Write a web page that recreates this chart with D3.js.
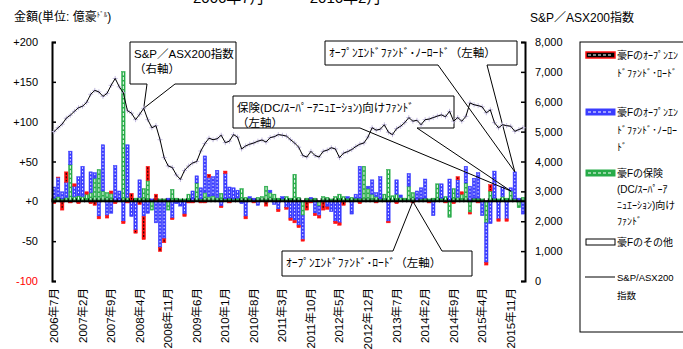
<!DOCTYPE html>
<html>
<head>
<meta charset="utf-8">
<script src="https://cdn.jsdelivr.net/npm/d3@7"></script>
<style>
  body { margin: 0; background: #fff; }
  svg { display: block; font-family: "Liberation Sans", "Noto Sans CJK JP", sans-serif; }
</style>
</head>
<body>
<div id="chart"></div>
<script>
// 豪州ファンドの資金フロー（月次、億豪ドル）と S&P/ASX200 指数
const months = d3.timeMonth.range(new Date(2006, 6, 1), new Date(2016, 2, 1)) // 2006年7月〜2016年2月

const tickLabels = ["2006年7月", "2007年2月", "2007年9月", "2008年4月", "2008年11月", "2009年6月",
  "2010年1月", "2010年8月", "2011年3月", "2011年10月", "2012年5月", "2012年12月", "2013年7月",
  "2014年2月", "2014年9月", "2015年4月", "2015年11月"]

// オープンエンドファンド・ロード
const red = [-3, 0.5, -11, 13, -2, 3, -3, 0, 3, -3,
  -5, -3, 0, -3, 3, -3, 0, -3, -2, 9,
  -4, -4, -29, 18, 0, 8, -5, -5, 0, -2,
  0, 0, -3, -2, -2, 0, -2, -2, 4, 0,
  0, -2, 3, -2, 0, 0, 0, -3, 0, -2,
  0, 0, -6, 0, 0, -3, 0, -2, -3, -3,
  -3, -2, -11, -2, -3, -3, -11, -3, 0, -3,
  -3, -5, 0, 0, 0, -3, 0, 0, 0, -2,
  0, 0, -2, 0, -3, 0, 0, 0, -2, 0,
  0, 0, -2, 0, 0, 0, -2, 0, -3, 4,
  3, 0, -2, 0, -2, 0, -3, 8, 0, -3,
  0, -3, 0, 0, 0, 0]

// オープンエンドファンド・ノーロード
const blue = [14, 24, 9, 19, 17, 13, 24, 38, 0, 26,
  7, -19, 58, -18, -15, 44, 12, -25, 66, -19,
  -36, 22, -19, -15, 2, -27, -58, -47, 3, -21,
  -3, -6, -16, 0, 12, 9, 14, 46, 24, 24,
  34, -6, 32, 14, 14, 10, -3, -19, 2, 3,
  -5, 0, 0, 3, -4, -10, 3, -8, -21, -24,
  -30, -30, 0, 2, -15, -12, 0, -7, -13, -25,
  -27, 0, 2, -16, 5, 40, 0, 3, 18, 5,
  28, 0, -25, 0, 18, 3, 0, 16, 0, 12,
  14, 24, 0, -18, 0, 18, 0, 27, 0, 22,
  0, 21, 18, 25, 32, -18, -50, -28, 34, -22,
  12, -22, 4, 34, 3, -16]

// 保険（DC/スーパーアニュエーション）向けファンド
const green = [3, 5, 2, 4, 45, 5, 6, 5, 8, 10,
  28, 39, 12, 10, 9, 0, 0, 162, 4, 0,
  3, 4, 15, 25, -11, 0, 2, 2, -11, 14,
  3, 2, 2, 8, 0, 22, 2, 10, 5, 6,
  4, 9, 2, 3, 2, 3, 15, 4, 3, 0,
  4, 5, 18, 10, 8, 3, 2, 5, 3, 33,
  4, -18, 3, 2, 3, -6, 5, 4, 2, 5,
  8, 5, 3, 4, 3, 3, 43, 15, 8, 5,
  2, 8, 39, 6, 8, 4, 3, 18, 10, 0,
  2, 3, 2, 3, 21, 3, 5, -20, 15, 4,
  8, 22, -14, 3, 3, 2, -27, 12, 3, 2,
  5, 3, 12, 2, -8, 4]

// その他
const other = [1, 1, 1, 1, 1, 1, 1, 1, 1, 1,
  1, 1, 1, 1, 1, 1, 1, 1, 1, 1,
  1, 1, 1, 1, 1, 1, 1, 1, 1, 1,
  1, 1, 1, 1, 1, 1, 1, 1, 1, 1,
  1, 1, 1, 1, 1, 1, 1, 1, 1, 1,
  1, 1, 1, 1, 1, 1, 1, 1, 1, 1,
  1, 1, 1, 1, 1, 1, 1, 1, 1, 1,
  1, 1, 1, 1, 1, 1, 1, 1, 1, 1,
  1, 1, 1, 1, 1, 1, 1, 1, 1, 1,
  1, 1, 1, 1, 1, 1, 1, 1, 1, 1,
  1, 1, 1, 1, 1, 1, 1, 1, 1, 1,
  1, 1, 1, 1, 1, 1]

// S&P/ASX200 指数（月末）
const asx = [5000, 5130, 5250, 5450, 5550, 5680, 5800, 5850, 5980, 6250,
  6380, 6330, 6180, 6280, 6550, 6780, 6500, 6300, 5700, 5620,
  5400, 5580, 5780, 5400, 5130, 5200, 4730, 4130, 3850, 3800,
  3550, 3400, 3700, 3850, 3950, 4000, 4350, 4600, 4780, 4730,
  4760, 4880, 4630, 4680, 4900, 4820, 4420, 4520, 4580, 4620,
  4680, 4720, 4650, 4800, 4830, 4900, 4880, 4850, 4730, 4620,
  4480, 4200, 4150, 4340, 4200, 4150, 4340, 4380, 4460, 4420,
  4130, 4280, 4330, 4400, 4500, 4580, 4620, 4820, 5130, 5050,
  5080, 5230, 4980, 4900, 5100, 5180, 5300, 5470, 5350, 5380,
  5230, 5400, 5420, 5470, 5520, 5560, 5500, 5680, 5350, 5470,
  5350, 5510, 5960, 5900, 5870, 5830, 5630, 5730, 5300, 5130,
  5230, 5200, 5180, 5010, 5070, 5130]

const leftTicks = [200, 150, 100, 50, 0, -50, -100]
const rightTicks = [0, 1000, 2000, 3000, 4000, 5000, 6000, 7000, 8000]

const plot = { left: 52, right: 525, top: 42, bottom: 281 }

const svg = d3.select("#chart").append("svg")
  .attr("width", 683).attr("height", 349)
  .attr("viewBox", "0 0 683 349")

// 上部タイトル（上端で切れている）
svg.append("text")
  .attr("x", 193).attr("y", 3)
  .attr("font-size", 15).attr("fill", "#000")
  .text("2006年7月　～　2016年2月")

// 軸タイトル
const lt = svg.append("text").attr("x", 14).attr("y", 21).attr("font-size", 12)
lt.append("tspan").text("金額(単位: 億豪")
lt.append("tspan").attr("font-size", 7).attr("dy", -4).text("ﾄﾞﾙ")
lt.append("tspan").attr("dy", 4).text(")")

svg.append("text")
  .attr("x", 530).attr("y", 22).attr("font-size", 12)
  .text("S&P／ASX200指数")

// スケール
const x = d3.scaleBand().domain(months).range([plot.left, plot.right]).paddingInner(0.15).paddingOuter(0.07)
const yL = d3.scaleLinear().domain([-100, 200]).range([plot.bottom, plot.top])
const yR = d3.scaleLinear().domain([0, 8000]).range([plot.bottom, plot.top])
const cx = (m) => x(m) + x.bandwidth() / 2
const fmt = (d) => `${d.getFullYear()}年${d.getMonth() + 1}月`

// 積み上げ（0から外側へ: その他, 保険, ノーロード, ロード）
const rows = months.map((m, i) => ({ m, other: other[i], green: green[i], blue: blue[i], red: red[i] }))
const keys = ["other", "green", "blue", "red"]
const stacked = d3.stack().keys(keys).offset(d3.stackOffsetDiverging)(rows)

const style = {
  red: { fill: "#ff1010", stroke: "#ff1010", dash: "#000", da: "2,1.5" },
  blue: { fill: "#3a3cff", stroke: "#3a3cff", dash: "#fff", da: "1.5,2" },
  green: { fill: "#27ab48", stroke: "#27ab48", dash: "#fff", da: "3,1.5" },
  other: { fill: "#fff", stroke: "#000", dash: null },
}

const bars = svg.append("g")
stacked.forEach((layer) => {
  const s = style[layer.key]
  const gl = bars.append("g")
  const segs = layer.filter((d) => d[1] !== d[0])
  gl.selectAll("rect").data(segs).join("rect")
    .attr("x", (d) => x(d.data.m))
    .attr("width", x.bandwidth())
    .attr("y", (d) => yL(Math.max(d[0], d[1])))
    .attr("height", (d) => Math.abs(yL(d[0]) - yL(d[1])))
    .attr("fill", s.fill).attr("stroke", s.stroke).attr("stroke-width", 0.5)
  if (s.dash) {
    gl.selectAll("line").data(segs.filter((d) => Math.abs(yL(d[0]) - yL(d[1])) > 3)).join("line")
      .attr("x1", (d) => cx(d.data.m)).attr("x2", (d) => cx(d.data.m))
      .attr("y1", (d) => yL(Math.max(d[0], d[1])) + 1)
      .attr("y2", (d) => yL(Math.min(d[0], d[1])) - 1)
      .attr("stroke", s.dash).attr("stroke-width", 1).attr("stroke-dasharray", s.da)
  }
})

// ゼロ線と目盛り
const y0 = yL(0)
svg.append("line")
  .attr("x1", plot.left).attr("x2", plot.right).attr("y1", y0).attr("y2", y0)
  .attr("stroke", "#000").attr("stroke-width", 2)
svg.append("g").selectAll("line").data(months).join("line")
  .attr("x1", (m) => x(m) - x.step() * x.paddingInner() / 2)
  .attr("x2", (m) => x(m) - x.step() * x.paddingInner() / 2)
  .attr("y1", y0 - 3).attr("y2", y0 + 1)
  .attr("stroke", "#000").attr("stroke-width", 1)

// 左軸
const axL = svg.append("g").attr("transform", `translate(${plot.left},0)`)
  .call(d3.axisLeft(yL).tickValues(leftTicks).tickSizeInner(-4).tickSizeOuter(-4).tickPadding(14)
    .tickFormat((v) => (v >= 0 ? "+" : "-") + Math.abs(v)))
axL.select(".domain").attr("stroke-width", 2)
axL.selectAll(".tick line").attr("stroke-width", 1.5)
axL.selectAll("text").attr("font-size", 11).attr("font-family", "Liberation Sans, sans-serif")
  .attr("fill", (v) => (v === -100 ? "#ff0000" : "#000"))

// 右軸
const axR = svg.append("g").attr("transform", `translate(${plot.right},0)`)
  .call(d3.axisRight(yR).tickValues(rightTicks).tickSizeInner(-4).tickSizeOuter(-4).tickPadding(10)
    .tickFormat(d3.format(",")))
axR.select(".domain").attr("stroke-width", 2)
axR.selectAll(".tick line").attr("stroke-width", 1.5)
axR.selectAll("text").attr("font-size", 11).attr("font-family", "Liberation Sans, sans-serif").attr("fill", "#000")

// 日付ラベル（縦書き）
const labelMonths = months.filter((m) => tickLabels.includes(fmt(m)))
svg.append("g").selectAll("text").data(labelMonths).join("text")
  .attr("transform", (m) => `translate(${cx(m) + 4},288) rotate(-90)`)
  .attr("text-anchor", "end")
  .attr("font-size", 11.5)
  .text((m) => fmt(m))

// 吹き出し
function callout(box, b1, b2, tip, lines, side) {
  const [x0, y0b, x1, y1] = box
  let p
  if (side === "bottom") {
    p = `M${x0},${y0b}H${x1}V${y1}H${b2}L${tip[0]},${tip[1]}L${b1},${y1}H${x0}Z`
  } else {
    p = `M${x0},${y0b}H${b1}L${tip[0]},${tip[1]}L${b2},${y0b}H${x1}V${y1}H${x0}Z`
  }
  svg.append("path").attr("d", p).attr("fill", "none").attr("stroke", "#000").attr("stroke-width", 1)
  lines.forEach((t, i) => {
    svg.append("text").attr("x", x0 + 4).attr("y", y0b + 16 + i * 15)
      .attr("font-size", 11.5).text(t)
  })
}

const mi = (i) => months[i]
// S&P/ASX200指数（右軸）
callout([130, 42, 236, 84], 147, 175, [cx(mi(22)), yR(asx[22])], ["S&P／ASX200指数", "（右軸）"], "bottom")
// ノーロード
const topAt = (i) => stacked[2][i][1]
callout([325, 41, 517, 65], 438, 487, [cx(mi(113)), yL(topAt(113))], ["ｵｰﾌﾟﾝｴﾝﾄﾞﾌｧﾝﾄﾞ･ﾉｰﾛｰﾄﾞ（左軸）"], "bottom")
// 保険
callout([233, 96, 454, 128], 360, 417, [cx(mi(112)), yL(stacked[1][112][1])],
  ["保険(DC/ｽｰﾊﾟｰｱﾆｭｴｰｼｮﾝ)向けﾌｧﾝﾄﾞ", "（左軸）"], "bottom")
// ロード
callout([282, 251, 472, 276], 393, 442, [cx(mi(88)), yL(0)], ["ｵｰﾌﾟﾝｴﾝﾄﾞﾌｧﾝﾄﾞ･ﾛｰﾄﾞ（左軸）"], "top")

// S&P/ASX200 線
const pts = months.map((m, i) => [cx(m), yR(asx[i])])
svg.append("g").selectAll("path").data(pts).join("path")
  .attr("d", (p) => `M${p[0] - 2.5},${p[1]}h5M${p[0]},${p[1] - 2.5}v5`)
  .attr("stroke", "#c4bce0").attr("stroke-width", 1)
svg.append("path")
  .attr("d", d3.line()(pts))
  .attr("fill", "none").attr("stroke", "#000").attr("stroke-width", 1)

// 凡例
const lg = svg.append("g")
lg.append("rect").attr("x", 580).attr("y", 42).attr("width", 120).attr("height", 290)
  .attr("fill", "#fff").attr("stroke", "#000").attr("stroke-width", 1)

const legendItems = [
  { key: "red", y: 55, lines: ["豪Fのｵｰﾌﾟﾝｴﾝ", "ﾄﾞﾌｧﾝﾄﾞ･ﾛｰﾄﾞ"] },
  { key: "blue", y: 112, lines: ["豪Fのｵｰﾌﾟﾝｴﾝ", "ﾄﾞﾌｧﾝﾄﾞ･ﾉｰﾛｰ", "ﾄﾞ"] },
  { key: "green", y: 173, lines: ["豪Fの保険", "(DC/ｽｰﾊﾟｰｱ", "ﾆｭｴｰｼｮﾝ)向け", "ﾌｧﾝﾄﾞ"] },
  { key: "other", y: 242, lines: ["豪Fのその他"] },
  { key: "line", y: 277, lines: ["S&P/ASX200", "指数"] },
]
legendItems.forEach((it) => {
  if (it.key === "line") {
    lg.append("line").attr("x1", 585).attr("x2", 615).attr("y1", it.y).attr("y2", it.y)
      .attr("stroke", "#000").attr("stroke-width", 1)
  } else if (it.key === "red") {
    lg.append("rect").attr("x", 586).attr("y", it.y - 3).attr("width", 29).attr("height", 6)
      .attr("fill", "#000").attr("stroke", "#ff1010").attr("stroke-width", 1.5)
    lg.append("line").attr("x1", 588).attr("x2", 613).attr("y1", it.y).attr("y2", it.y)
      .attr("stroke", "#fff").attr("stroke-width", 1).attr("stroke-dasharray", "3,2")
  } else {
    const s = style[it.key]
    lg.append("rect").attr("x", 586).attr("y", it.y - 3).attr("width", 29).attr("height", 6)
      .attr("fill", s.fill).attr("stroke", s.stroke).attr("stroke-width", 1)
    if (s.dash) {
      lg.append("line").attr("x1", 588).attr("x2", 613).attr("y1", it.y).attr("y2", it.y)
        .attr("stroke", s.dash).attr("stroke-width", 1.2).attr("stroke-dasharray", "3,2")
    }
  }
  it.lines.forEach((t, i) => {
    lg.append("text").attr("x", 617).attr("y", it.y + 4 + i * (it.key === "green" ? 16 : 17.5))
      .attr("font-size", it.key === "line" ? 9.5 : 10).text(t)
  })
})
</script>
</body>
</html>
